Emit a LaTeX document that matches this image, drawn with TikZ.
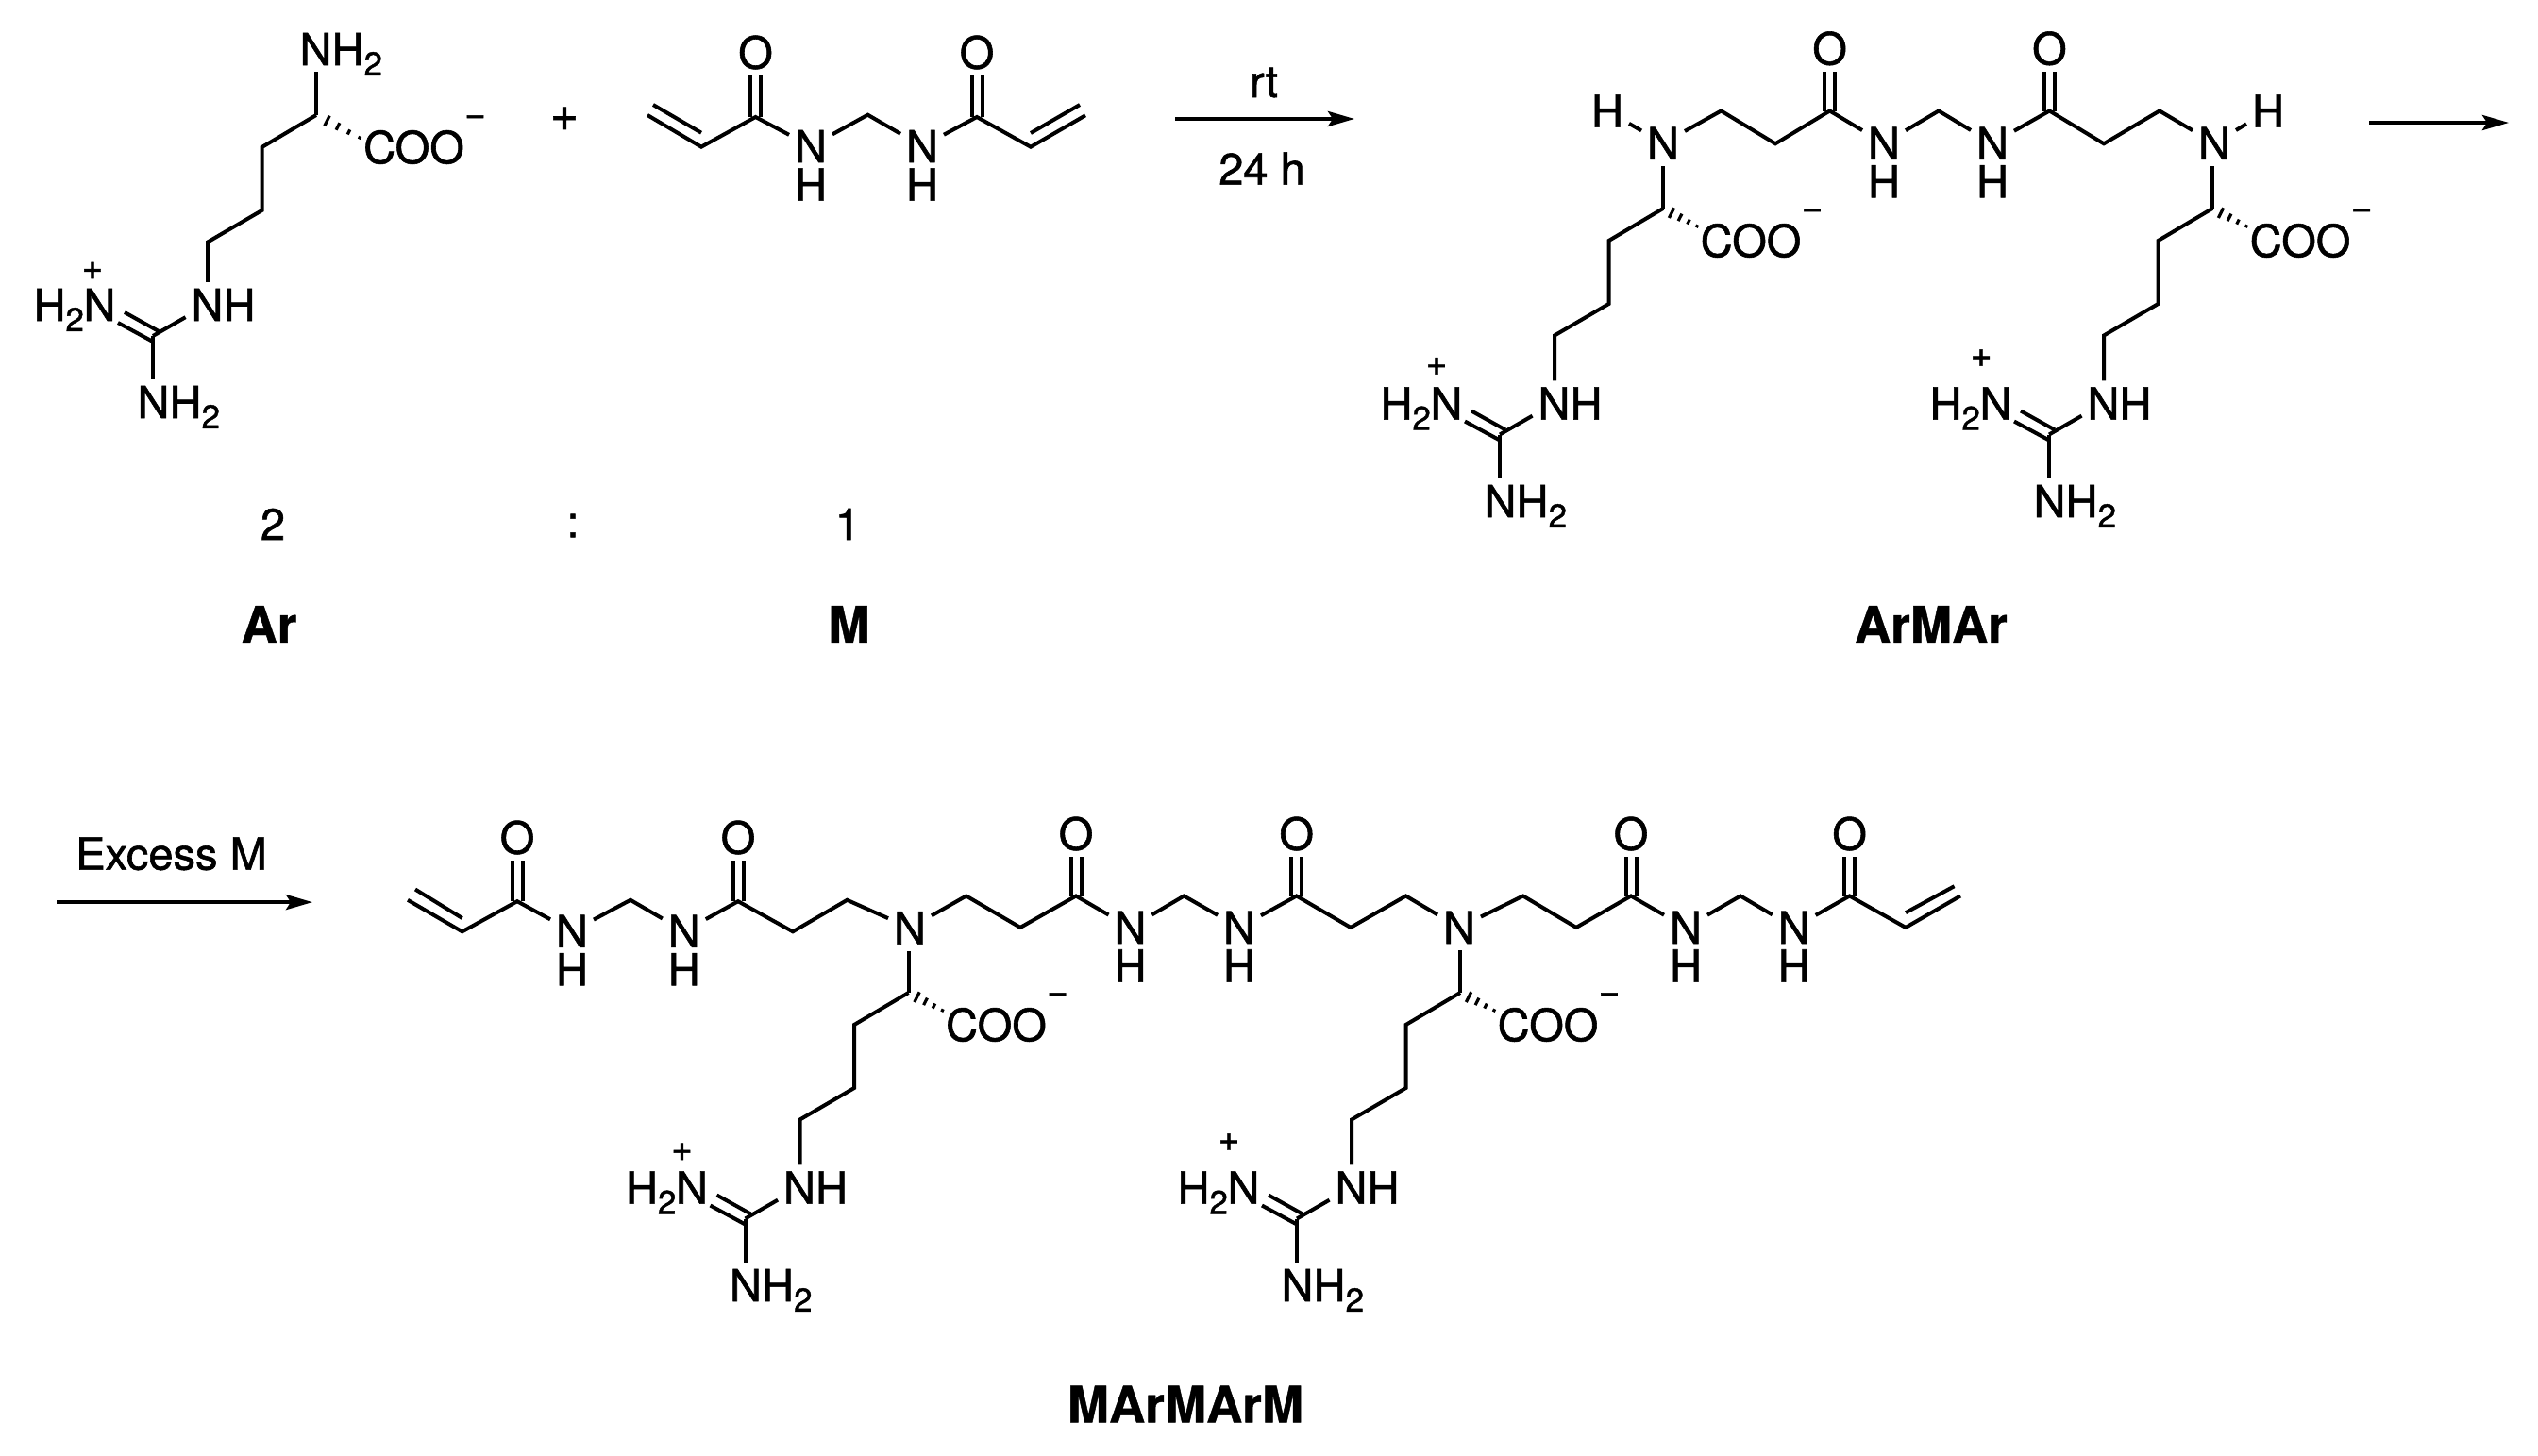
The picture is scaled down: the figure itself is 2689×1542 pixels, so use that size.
\documentclass[tikz,border=0pt]{standalone}
\usepackage{fontspec}
\setmainfont{TeX Gyre Heros}[UprightFeatures={FakeBold=1.2},BoldFeatures={FakeBold=0.8}]
\usetikzlibrary{arrows.meta,calc}
\tikzset{
  bond/.style={line width=4pt,line cap=butt,line join=miter,draw=black},
  hashtick/.style={line width=3.2pt,draw=black},
  rxnarrow/.style={line width=4pt,draw=black,-{Stealth[length=28pt,width=16pt,inset=5pt]}},
  atom/.style={inner sep=0pt,outer xsep=6pt,outer ysep=7pt,font=\fontsize{47}{47}\selectfont},
  txt/.style={inner sep=0pt,font=\fontsize{47}{47}\selectfont},
  subs/.style={inner sep=0pt,font=\fontsize{35}{35}\selectfont},
  chg/.style={inner sep=0pt,font=\fontsize{39}{39}\selectfont},
  bigplus/.style={inner sep=0pt,font=\fontsize{52}{52}\selectfont},
  cmpd/.style={inner sep=0pt,font=\fontsize{53}{53}\selectfont\bfseries}
}
% carbonyl: #1 carbon coordinate, #2 oxygen node
\newcommand\carbonyl[2]{%
  \draw[bond] ($(#1)+(-5.5,0)$) -- ($(#1 |- #2.south)+(-5.5,0)$);
  \draw[bond] ($(#1)+(5.5,0)$) -- ($(#1 |- #2.south)+(5.5,0)$);
}
% secondary amide N with H below: #1 name, #2 x, #3 y
\newcommand\amideN[3]{%
  \node[atom] (#1) at (#2,#3) {N};
  \node[txt] (#1h) at (#2,#3+40.5) {H};
}
% arginine side chain: prefix, x, y, lower offset, plus x, plus y, COO x, hash length
\newcommand\argunit[8]{%
\begin{scope}[shift={(#2,#3)}]
  \coordinate (#1ca) at (0,0);
  \coordinate (#1c1) at (-57.5,34);
  \coordinate (#1c2) at (-57.5,101);
  \coordinate (#1c3) at (-115,134.5);
  \node[atom] (#1n) at (-115.5,201+#4) {N};
  \node[txt] (#1nh) at (-81.5,201+#4) {H};
  \coordinate (#1g) at (-173,234+#4);
  \node[atom] (#1bn) at (-172.5,304+#4*1.1) {N};
  \node[txt] (#1bh) at (-138.5,304+#4*1.1) {H};
  \node[subs] (#1bs) at (-111.7,319.5+#4*1.1) {2};
  \node[atom] (#1ln) at (-229.5,201+#4) {N};
  \node[txt] (#1lh) at (-282.5,201+#4) {H};
  \node[subs] (#1ls) at (-255.8,216.5+#4) {2};
  \node[chg] (#1plus) at (#5,#6) {+};
  \node[txt] (#1coo) at (#7,34) {COO};
  \node[chg] (#1minus) at (#7+65,6) {−};
  \draw[bond] (#1ca) -- (#1c1) -- (#1c2) -- (#1c3) -- (#1c3 |- #1n.north);
  \draw[bond] (#1g) -- (#1n);
  \draw[bond] (#1g) -- (#1g |- #1bn.north);
  \draw[bond] ($(#1g)+(6,-5)$) -- ($(#1g)+(-30,-25)$);
  \draw[bond] ($(#1g)+(0,6)$) -- ($(#1g)+(-37,-14)$);
  \foreach \t/\h in {.25/6,.5/4.2,.75/2.8,1/1.6}{
    \draw[hashtick] (\t*#8+\h*0.45,\t*#8*0.52-\h*0.89) -- (\t*#8-\h*0.45,\t*#8*0.52+\h*0.89);
  }
\end{scope}}
\begin{document}
\begin{tikzpicture}[x=1pt,y=-1pt]
\useasboundingbox (0,0) rectangle (2689,1542);
\fill[white] (0,0) rectangle (2689,1542);

% ---------- Ar ----------
\argunit{a}{335}{122}{0}{-237}{165}{103.5}{46}
\node[atom] (aN) at (334.5,52) {N};
\node[txt] (aNH) at (368.5,52) {H};
\node[subs] (aNs) at (395.3,67.5) {2};
\draw[bond] (aca) -- (aca |- aN.south);

\node[bigplus] (plusA) at (598,126) {+};

% ---------- M ----------
\coordinate (mv1o) at (686,122);
\coordinate (mv1c) at (743,155.7);
\coordinate (mv1i) at (692,111);
\coordinate (mv1j) at (743,140.7);
\coordinate (mco1) at (800.5,124);
\node[atom] (mO1) at (800.5,55.5) {O};
\amideN{mN1}{859}{155}
\coordinate (mch) at (919.4,121.7);
\amideN{mN2}{977}{155}
\coordinate (mco2) at (1035,124);
\node[atom] (mO2) at (1035,55.5) {O};
\coordinate (mv2c) at (1092,155.7);
\coordinate (mv2o) at (1150,122.3);
\coordinate (mv2j) at (1092,141);
\coordinate (mv2i) at (1144,111);
\draw[bond] (mv1o) -- (mv1c) -- (mco1) -- (mN1);
\draw[bond] (mv1i) -- (mv1j);
\draw[bond] (mN1) -- (mch) -- (mN2);
\draw[bond] (mN2) -- (mco2) -- (mv2c) -- (mv2o);
\draw[bond] (mv2j) -- (mv2i);
\carbonyl{mco1}{mO1}
\carbonyl{mco2}{mO2}

% ---------- first arrow ----------
\coordinate (ar1s) at (1245,126);
\coordinate (ar1e) at (1435,126);
\draw[rxnarrow] (ar1s) -- (ar1e);
\node[txt,anchor=base] (rt) at (1339,103) {rt};
\node[txt,anchor=base] (tf) at (1337,195.7) {24 h};

% ---------- ArMAr ----------
\argunit{b}{1762}{221}{5.5}{-240}{167.4}{93}{36}
\argunit{c}{2344}{221}{5.5}{-245}{158.5}{93}{36}
\node[atom] (bNl) at (1762,151.8) {N};
\node[atom] (bHl) at (1703,117.5) {H};
\coordinate (ba1) at (1823.5,117.5);
\coordinate (ba2) at (1881,152.3);
\coordinate (bco1) at (1938.6,117.5);
\node[atom] (bO1) at (1938.6,51.3) {O};
\amideN{bN1}{1996}{151.8}
\coordinate (bch) at (2054,117.5);
\amideN{bN2}{2111}{151.8}
\coordinate (bco2) at (2171.4,117.5);
\node[atom] (bO2) at (2171.4,51.3) {O};
\coordinate (ba3) at (2229,152.3);
\coordinate (ba4) at (2288,117.5);
\node[atom] (bNr) at (2346,151.8) {N};
\node[atom] (bHr) at (2403,117.5) {H};
\draw[bond] (bNl) -- (ba1) -- (ba2) -- (bco1) -- (bN1);
\draw[bond] (bN1) -- (bch) -- (bN2);
\draw[bond] (bN2) -- (bco2) -- (ba3) -- (ba4) -- (bNr);
\draw[bond] (bHl) -- (bNl);
\draw[bond] (bHr) -- (bNr);
\draw[bond] (bca) -- (bca |- bNl.south);
\draw[bond] (cca) -- (cca |- bNr.south);
\carbonyl{bco1}{bO1}
\carbonyl{bco2}{bO2}

% ---------- second arrow ----------
\coordinate (ar2s) at (2510,130);
\coordinate (ar2e) at (2658,130);
\draw[rxnarrow] (ar2s) -- (ar2e);

% ---------- ratio and labels ----------
\node[txt] (ratA) at (289,555.5) {2};
\node[txt] (ratC) at (607,557) {:};
\node[txt] (ratM) at (898,555.5) {1};
\node[cmpd] (lAr) at (285,661.5) {Ar};
\node[cmpd] (lM) at (899.5,661.5) {M};
\node[cmpd] (lArMAr) at (2046,661.5) {ArMAr};
\node[cmpd] (lMAr) at (1256,1488) {MArMArM};

% ---------- third arrow ----------
\coordinate (ar3s) at (60,956.1);
\coordinate (ar3e) at (331,956.1);
\draw[rxnarrow] (ar3s) -- (ar3e);
\node[txt,anchor=base] (exc) at (181.5,921.6) {Excess M};

% ---------- MArMArM ----------
\argunit{d}{962.5}{1052}{5.5}{-240}{168.8}{93}{36}
\argunit{e}{1547}{1052}{5.5}{-245}{158.5}{93}{36}
\coordinate (pv1o) at (432,953.8);
\coordinate (pv1c) at (489.7,987.3);
\coordinate (pv1i) at (440,942.5);
\coordinate (pv1j) at (489.7,973);
\coordinate (pco1) at (548,955.2);
\node[atom] (pO1) at (548,887.5) {O};
\amideN{pN1}{606}{986.8}
\coordinate (pch1) at (668,953.8);
\amideN{pN2}{724.8}{986.8}
\coordinate (pco2) at (782,955.2);
\node[atom] (pO2) at (782,887.5) {O};
\coordinate (pa1) at (840,987.3);
\coordinate (pa2) at (897.5,953.8);
\node[atom] (pT1) at (964,983.4) {N};
\coordinate (pa3) at (1023.7,949.5);
\coordinate (pa4) at (1081,982.9);
\coordinate (pco3) at (1140,949.5);
\node[atom] (pO3) at (1140,883.5) {O};
\amideN{pN3}{1197.5}{982.9}
\coordinate (pch2) at (1254.4,949.5);
\amideN{pN4}{1313}{982.9}
\coordinate (pco4) at (1373.7,949.5);
\node[atom] (pO4) at (1373.7,883.5) {O};
\coordinate (pa5) at (1431,982.9);
\coordinate (pa6) at (1489.5,949.5);
\node[atom] (pT2) at (1546,982.9) {N};
\coordinate (pa7) at (1613.7,949.5);
\coordinate (pa8) at (1670,982.9);
\coordinate (pco5) at (1728,949.5);
\node[atom] (pO5) at (1728,883.5) {O};
\amideN{pN5}{1786}{982.9}
\coordinate (pch3) at (1844,949.5);
\amideN{pN6}{1900.7}{982.9}
\coordinate (pco6) at (1959.6,949.5);
\node[atom] (pO6) at (1959.6,883.5) {O};
\coordinate (pv2c) at (2019,982.9);
\coordinate (pv2o) at (2077,949.5);
\coordinate (pv2j) at (2019,967.2);
\coordinate (pv2i) at (2070.5,939.2);
\draw[bond] (pv1o) -- (pv1c) -- (pco1) -- (pN1);
\draw[bond] (pv1i) -- (pv1j);
\draw[bond] (pN1) -- (pch1) -- (pN2);
\draw[bond] (pN2) -- (pco2) -- (pa1) -- (pa2) -- (pT1);
\draw[bond] (pT1) -- (pa3) -- (pa4) -- (pco3) -- (pN3);
\draw[bond] (pN3) -- (pch2) -- (pN4);
\draw[bond] (pN4) -- (pco4) -- (pa5) -- (pa6) -- (pT2);
\draw[bond] (pT2) -- (pa7) -- (pa8) -- (pco5) -- (pN5);
\draw[bond] (pN5) -- (pch3) -- (pN6);
\draw[bond] (pN6) -- (pco6) -- (pv2c) -- (pv2o);
\draw[bond] (pv2j) -- (pv2i);
\draw[bond] (dca) -- (dca |- pT1.south);
\draw[bond] (eca) -- (eca |- pT2.south);
\carbonyl{pco1}{pO1}
\carbonyl{pco2}{pO2}
\carbonyl{pco3}{pO3}
\carbonyl{pco4}{pO4}
\carbonyl{pco5}{pO5}
\carbonyl{pco6}{pO6}
\end{tikzpicture}
\end{document}
